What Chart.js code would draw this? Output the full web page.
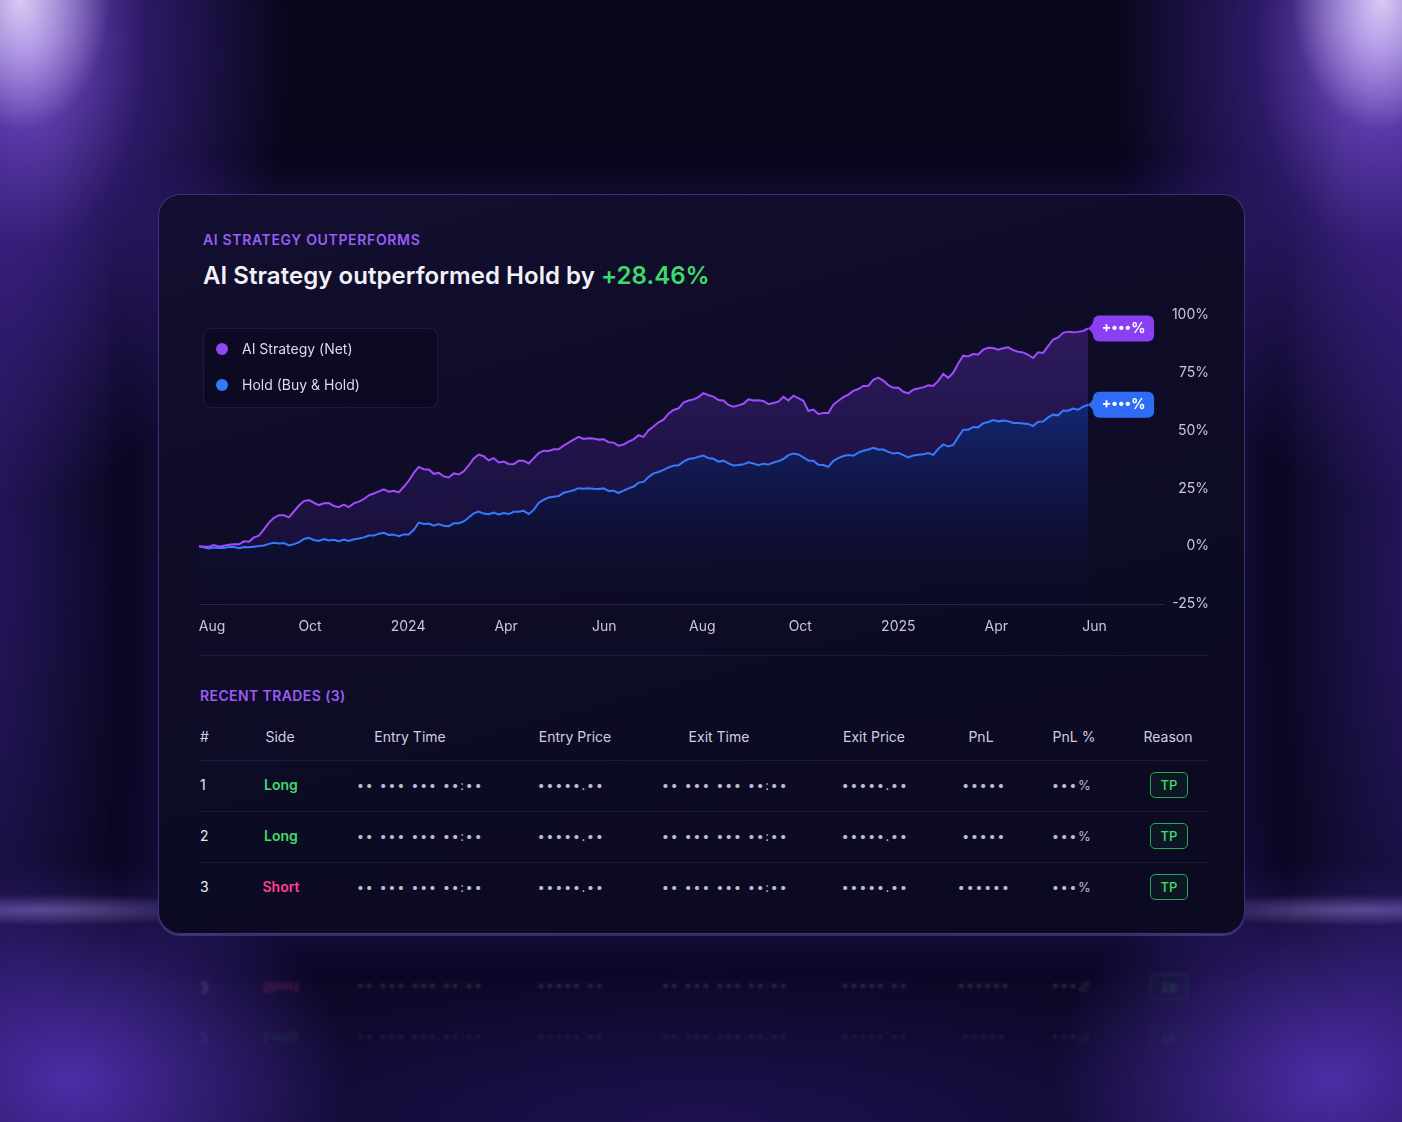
<!DOCTYPE html>
<html>
<head>
<meta charset="utf-8">
<script src="https://cdn.jsdelivr.net/npm/chart.js@4.4.1/dist/chart.umd.min.js"></script>
<style>
  html, body { margin:0; padding:0; }
  body {
    width:1402px; height:1122px; overflow:hidden; position:relative;
    font-family: Inter, "Noto Sans", sans-serif;
    background:
      radial-gradient(ellipse 90px 130px at 20px 0px, rgba(235,225,255,0.85), rgba(235,225,255,0) 100%),
      radial-gradient(ellipse 90px 130px at 1382px 0px, rgba(235,225,255,0.85), rgba(235,225,255,0) 100%),
      radial-gradient(ellipse 260px 460px at 30px 40px, rgba(150,100,255,0.8), rgba(110,60,240,0.35) 45%, rgba(80,40,200,0) 100%),
      radial-gradient(ellipse 260px 460px at 1372px 40px, rgba(150,100,255,0.8), rgba(110,60,240,0.35) 45%, rgba(80,40,200,0) 100%),
      radial-gradient(ellipse 170px 600px at -40px 560px, rgba(100,55,230,0.38), rgba(100,55,230,0) 100%),
      radial-gradient(ellipse 170px 600px at 1442px 560px, rgba(100,55,230,0.38), rgba(100,55,230,0) 100%),
      radial-gradient(ellipse 200px 16px at 40px 910px, rgba(190,165,255,0.4), rgba(190,165,255,0) 100%),
      radial-gradient(ellipse 200px 16px at 1362px 910px, rgba(190,165,255,0.4), rgba(190,165,255,0) 100%),
      radial-gradient(ellipse 280px 220px at 70px 1080px, rgba(120,70,255,0.6), rgba(120,70,255,0) 100%),
      radial-gradient(ellipse 280px 220px at 1332px 1080px, rgba(120,70,255,0.6), rgba(120,70,255,0) 100%),
      radial-gradient(ellipse 650px 160px at 701px 1122px, rgba(70,35,170,0.3), rgba(70,35,170,0) 100%),
      linear-gradient(#08061a, #0a0720 60%, #0c0828);
  }
  .abs { position:absolute; }
  .card {
    position:absolute; left:158px; top:194px; width:1085px; height:738px;
    border-radius:22px;
    background: linear-gradient(165deg, #130f31 0%, #0e0c27 35%, #0b0a21 100%);
    border:1px solid rgba(140,115,255,0.38);
    box-shadow: 0 0 50px rgba(90,50,220,0.22), 0 2px 0 rgba(180,160,255,0.25);
  }
  .eyebrow { left:203px; top:230px; line-height:20px; font-size:14px; font-weight:600; color:#9b5cf6; letter-spacing:0.65px; white-space:nowrap; }
  .headline { left:203px; top:260px; line-height:32px; font-size:24px; font-weight:600; color:#f2f1f8; white-space:nowrap; letter-spacing:0.05px; }
  .headline .pos { color:#3ddc6a; }
  #chartWrap { position:absolute; left:199px; top:300px; width:1016px; height:345px; }
  .legend {
    left:203px; top:328px; width:233px; height:78px; border-radius:8px;
    background: rgba(10,8,30,0.55); border:1px solid rgba(120,110,210,0.16);
  }
  .lg-item { position:absolute; left:12px; height:20px; line-height:20px; font-size:14px; color:#dcdbe8; white-space:nowrap; }
  .lg-dot { position:absolute; left:0; top:4px; width:12px; height:12px; border-radius:50%; }
  .lg-text { position:absolute; left:26px; top:0; }
  .sep { position:absolute; left:199px; width:1009px; height:1px; background:rgba(110,100,200,0.17); }
  .section { left:200px; top:686px; line-height:20px; font-size:14px; font-weight:600; color:#9b5cf6; white-space:nowrap; letter-spacing:0.4px; }
  .cell { position:absolute; white-space:nowrap; line-height:20px; height:20px; font-size:14px; }
  .hdr { color:#cfcfe0; }
  .num { color:#e8e8f0; }
  .long { color:#3ddc6a; font-weight:600; }
  .short { color:#ff3f8e; font-weight:600; }
  .dots { color:#bdbccf; font-size:13px; letter-spacing:1.5px; }
  .tp {
    position:absolute; width:36px; height:24px; line-height:24px; text-align:center;
    border:1.5px solid #2aa84e; border-radius:5px; color:#3ee070; font-size:13px; font-weight:500;
    background: rgba(30,160,70,0.08);
  }
  #refl {
    position:absolute; left:0; top:0; width:1402px; height:1122px; pointer-events:none;
    transform-origin: 0 937px; transform: scaleY(-1);
    opacity:0.3; filter: blur(1.5px);
    -webkit-mask-image: linear-gradient(to bottom, rgba(0,0,0,0) 770px, rgba(0,0,0,0.45) 850px, #000 905px);
    mask-image: linear-gradient(to bottom, rgba(0,0,0,0) 770px, rgba(0,0,0,0.45) 850px, #000 905px);
  }
</style>
</head>
<body>
<div class="card"></div>
<div class="abs eyebrow">AI STRATEGY OUTPERFORMS</div>
<div class="abs headline">AI Strategy outperformed Hold by <span class="pos">+28.46%</span></div>
<div id="chartWrap"><canvas id="c"></canvas></div>
<div class="abs legend" id="legend"></div>
<div class="sep" style="top:655px"></div>
<div class="abs section">RECENT TRADES (3)</div>
<div id="table"></div>
<div id="refl"></div>
<script>
// ---------- DATA ----------
const seriesNames = ['AI Strategy (Net)', 'Hold (Buy & Hold)'];
const xTickLabels = ['Aug', 'Oct', '2024', 'Apr', 'Jun', 'Aug', 'Oct', '2025', 'Apr', 'Jun'];
const endLabels = ['+•••%', '+•••%'];

const aiStrategy = [
  0,-0.2,-0.2,0.5,-0.2,0.2,0.6,0.8,0.8,2.1,
  1.9,3.8,4.6,7.3,10.2,12.3,13.4,13.4,12.5,15,
  17.6,19.5,20,18.8,17.8,18.6,18.7,17.4,16.9,18,
  16.9,18.5,19.3,20.3,22,22.8,23.7,24.6,23.6,24,
  23.3,25.7,28.3,31.7,34.3,33.3,33.2,31.3,31.7,30.2,
  29.7,31.5,31,32.4,35,38,39.6,38.9,37.1,38.1,
  36.2,36.6,35.6,35.5,37,37,35.8,38,40.3,41.3,
  41.2,41.9,41.9,43.5,44.8,46.1,47.3,46.4,46.7,46.6,
  46.1,46.3,45,44.8,43.5,44,45.2,46.2,48,47.3,
  50.2,51.8,53.6,54.7,57.3,58.9,59.6,62.1,63,63.5,
  64.5,66.2,65.3,64.7,63.2,63,61.1,60.3,60.9,61.6,
  63.5,63,63.1,62.8,61.4,61.9,62.5,64.6,63,65.1,
  64,62.9,58.5,59.1,57.2,57.6,57.6,61.2,62.9,64.5,
  65.6,67.2,68,69.3,69.4,72,72.9,71.6,69.7,68.5,
  68.5,66.8,66.1,67.7,68.2,68.7,69.6,69.3,71.5,74.5,
  72.8,75,79,82.4,82.1,83.1,82.9,85,85.8,85.7,
  85,85.6,86,84.8,84.1,83.8,82.8,81.4,83.9,83.6,
  86.5,89.4,90.3,92.3,92.8,92.5,92.7,93.1,94.2
];
const holdValues = [
  0,-0.5,-1,-0.6,-0.8,-0.8,-0.3,-0.3,-0.9,-0.4,
  -0.5,-0.2,0.1,0.3,1,1.5,1.2,1.4,0.3,0.9,
  1.7,3.1,3.6,2.7,2.3,3.1,2.5,2.8,2.2,2.9,
  2.3,3,3.3,3.8,4.6,4.6,5.4,5.8,4.9,5,
  4.3,5.1,5.1,7.1,10.2,9.6,9.8,8.9,9.6,8.8,
  8.6,9.9,9.9,10.7,12.4,14.2,15,14.1,13.8,14.5,
  13.7,14.3,13.9,14.9,14.9,15.3,13.9,15.7,18.7,20.1,
  21.1,21.4,21.7,23.1,23.6,24.2,25.1,24.9,25.1,24.8,
  24.7,25,23.9,24,23,24,25,25.8,27.5,27.8,
  29.9,31.5,32.1,33,34.1,34.8,35,36.6,37.7,38,
  38.7,39.2,38.1,37.8,36.6,37,35.8,34.9,35.1,35.4,
  36.3,35.8,35,35.7,35.3,36.2,36.8,37.7,39.4,40.1,
  39.7,38.4,37.1,37,35.2,35.1,34.3,36.9,38.1,39,
  39.4,39.1,40.5,41.3,41.8,42.6,41.8,41.8,40.8,40.1,
  40.4,39.4,38.4,39.2,39.6,39.8,40.3,39.5,42.1,44,
  43.1,43.8,47.2,50.4,50.4,51.6,51.4,53.2,53.7,54.6,
  54,54.4,54.1,53.3,53.3,53.1,52.9,52,53.8,53.9,
  55.7,56.9,56.6,58.7,58.6,59.5,59,60.4,61.2
];

const tradeHeaders = ['#', 'Side', 'Entry Time', 'Entry Price', 'Exit Time', 'Exit Price', 'PnL', 'PnL %', 'Reason'];
const trades = [
  ['1', 'Long',  '•• ••• ••• ••:••', '•••••.••', '•• ••• ••• ••:••', '•••••.••', '•••••',  '•••%', 'TP'],
  ['2', 'Long',  '•• ••• ••• ••:••', '•••••.••', '•• ••• ••• ••:••', '•••••.••', '•••••',  '•••%', 'TP'],
  ['3', 'Short', '•• ••• ••• ••:••', '•••••.••', '•• ••• ••• ••:••', '•••••.••', '••••••', '•••%', 'TP']
];

// ---------- STYLE ----------
const lineColors = ['#a14cff', '#2f80ff'];
const pillColors = ['#8a3ff2', '#2f6cf6'];
const dotColors = ['#8c4af0', '#2f7cf6'];

// ---------- LEGEND ----------
const legend = document.getElementById('legend');
seriesNames.forEach((name, i) => {
  const it = document.createElement('div');
  it.className = 'lg-item';
  it.style.top = (10 + i * 36) + 'px';
  it.innerHTML = '<span class="lg-dot" style="background:' + dotColors[i] + '"></span><span class="lg-text">' + name + '</span>';
  legend.appendChild(it);
});

// ---------- TABLE ----------
const hdrX = [200, 280, 410, 575, 719, 874, 981, 1074, 1168];
const cellX = [200, 281, 420, 571, 725, 875, 984, 1072, 1169];
const hdrY = 737, rowY = [785, 836, 887], sepY = [760, 811, 862];

function place(parent, text, cls, cx, cy, left) {
  const d = document.createElement('div');
  d.className = 'cell ' + cls;
  d.textContent = text;
  d.style.top = (cy - 10) + 'px';
  d.style.left = cx + 'px';
  if (!left) d.style.transform = 'translateX(-50%)';
  parent.appendChild(d);
  return d;
}
function buildRows(parent) {
  trades.forEach((row, r) => {
    const y = rowY[r];
    row.forEach((v, c) => {
      if (c === 0) place(parent, v, 'num', cellX[c], y, true);
      else if (c === 1) place(parent, v, v === 'Long' ? 'long' : 'short', cellX[c], y, false);
      else if (c === 8) {
        const t = document.createElement('div');
        t.className = 'tp'; t.textContent = v;
        t.style.left = (cellX[c] - 19) + 'px'; t.style.top = (y - 13) + 'px';
        parent.appendChild(t);
      } else place(parent, v, 'dots', cellX[c], y, false);
    });
  });
}
const table = document.getElementById('table');
tradeHeaders.forEach((h, c) => place(table, h, 'hdr', hdrX[c], hdrY, c === 0));
sepY.forEach(y => { const s = document.createElement('div'); s.className = 'sep'; s.style.top = y + 'px'; table.appendChild(s); });
buildRows(table);
buildRows(document.getElementById('refl'));

// ---------- CHART ----------
const X_TICK_START = 2.6, X_TICK_STEP = 19.63;

const endPills = {
  id: 'endPills',
  afterDatasetsDraw(chart) {
    const ctx = chart.ctx;
    chart.data.datasets.forEach((ds, i) => {
      const meta = chart.getDatasetMeta(i);
      const pt = meta.data[meta.data.length - 1];
      const x = pt.x, y = pt.y;
      const w = 61, h = 26, r = 6, left = x + 5;
      ctx.save();
      ctx.fillStyle = pillColors[i];
      ctx.beginPath();
      ctx.roundRect(left, y - h / 2, w, h, r);
      ctx.fill();
      ctx.beginPath();
      ctx.moveTo(x - 1, y);
      ctx.quadraticCurveTo(left - 1, y - 2, left + 1, y - 9);
      ctx.lineTo(left + 4, y - 9);
      ctx.lineTo(left + 4, y + 9);
      ctx.lineTo(left + 1, y + 9);
      ctx.quadraticCurveTo(left - 1, y + 2, x - 1, y);
      ctx.fill();
      ctx.fillStyle = '#ffffff';
      ctx.font = '700 14px Inter';
      ctx.textAlign = 'center';
      ctx.textBaseline = 'middle';
      ctx.fillText(endLabels[i], left + w / 2, y + 0.5);
      ctx.restore();
    });
  }
};

function purpleFill(ctx) {
  const ca = ctx.chart.chartArea; if (!ca) return 'rgba(140,70,255,0.2)';
  const ys = ctx.chart.scales.y;
  const g = ctx.chart.ctx.createLinearGradient(0, ys.getPixelForValue(95), 0, ys.getPixelForValue(0));
  g.addColorStop(0, 'rgba(140,70,255,0.26)');
  g.addColorStop(1, 'rgba(110,50,220,0.12)');
  return g;
}
function blueFill(ctx) {
  const ca = ctx.chart.chartArea; if (!ca) return 'rgba(40,90,255,0.2)';
  const ys = ctx.chart.scales.y;
  const g = ctx.chart.ctx.createLinearGradient(0, ys.getPixelForValue(62), 0, ca.bottom);
  g.addColorStop(0, 'rgba(35,90,255,0.36)');
  g.addColorStop(0.55, 'rgba(30,60,200,0.14)');
  g.addColorStop(1, 'rgba(20,25,90,0)');
  return g;
}

Chart.defaults.font.family = 'Inter';
new Chart(document.getElementById('c'), {
  type: 'line',
  data: {
    datasets: [
      {
        label: seriesNames[0],
        data: aiStrategy.map((v, i) => ({ x: i, y: v })),
        borderColor: lineColors[0], borderWidth: 2, pointRadius: 0, tension: 0,
        fill: '+1', backgroundColor: purpleFill
      },
      {
        label: seriesNames[1],
        data: holdValues.map((v, i) => ({ x: i, y: v })),
        borderColor: lineColors[1], borderWidth: 2, pointRadius: 0, tension: 0,
        fill: 'start', backgroundColor: blueFill
      }
    ]
  },
  options: {
    responsive: true, maintainAspectRatio: false, animation: false,
    layout: { padding: { top: 15, right: 6, bottom: 10, left: 0 } },
    plugins: { legend: { display: false }, tooltip: { enabled: false } },
    scales: {
      x: {
        type: 'linear', min: 0, max: 193,
        afterBuildTicks: axis => { axis.ticks = xTickLabels.map((_, k) => ({ value: X_TICK_START + k * X_TICK_STEP })); },
        afterFit: s => { s.paddingLeft = 0; s.paddingRight = 0; s.height = 31; },
        ticks: {
          autoSkip: false, maxRotation: 0, padding: 14,
          color: '#c9c8d8', font: { size: 14 },
          callback: (v, i) => xTickLabels[i]
        },
        grid: { display: false, drawTicks: false },
        border: { display: true, color: 'rgba(95,85,170,0.35)', width: 1 }
      },
      y: {
        position: 'right', min: -25, max: 100,
        afterFit: s => { s.width = 46; s.paddingTop = 0; s.paddingBottom = 0; },
        ticks: {
          stepSize: 25, padding: 10, crossAlign: 'far',
          color: '#c9c8d8', font: { size: 14 },
          callback: v => v + '%'
        },
        grid: { display: false, drawTicks: false },
        border: { display: false }
      }
    }
  },
  plugins: [endPills]
});
</script>
</body>
</html>
